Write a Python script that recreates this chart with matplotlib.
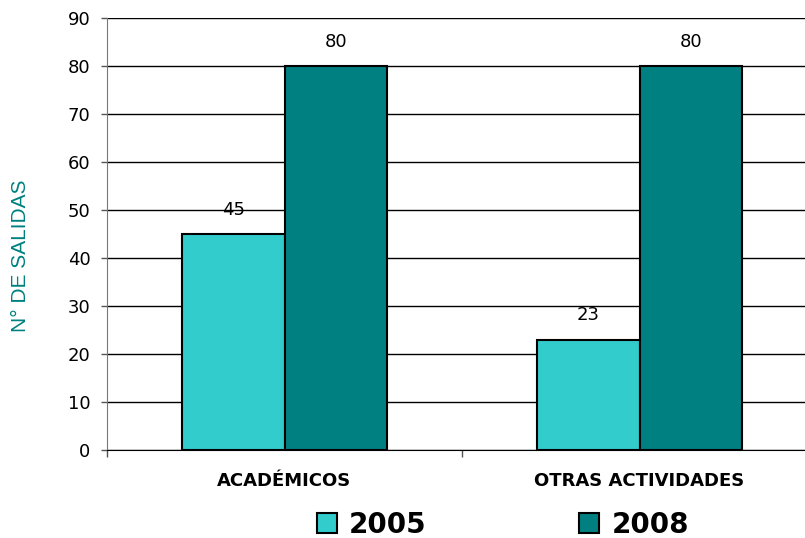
import matplotlib
matplotlib.use("Agg")
import matplotlib.pyplot as plt
import numpy as np

categories = ["ACADÉMICOS", "OTRAS ACTIVIDADES"]
series_names = ["2005", "2008"]
values_2005 = [45, 23]
values_2008 = [80, 80]
yticks = [0, 10, 20, 30, 40, 50, 60, 70, 80, 90]

plt.rcParams['font.family'] = ['DejaVu Sans']

fig = plt.figure(figsize=(8.05, 5.38), dpi=100)
ax = fig.add_axes([107/805, 1-450/538, 710/805, 432/538])

x = np.arange(len(categories))
w = 0.289
b1 = ax.bar(x - w/2, values_2005, w, color="#33CCCC", edgecolor="black", linewidth=1.5, label=series_names[0], zorder=3)
b2 = ax.bar(x + w/2, values_2008, w, color="#008080", edgecolor="black", linewidth=1.5, label=series_names[1], zorder=3)

for bars, vals in ((b1, values_2005), (b2, values_2008)):
    for r, v in zip(bars, vals):
        ax.annotate(str(v), (r.get_x() + r.get_width()/2, v), xytext=(0, 11), textcoords="offset points",
                    ha="center", va="bottom", fontsize=13)

ax.set_xlim(-0.5, 1.5)
ax.set_ylim(0, 90)
ax.set_yticks(yticks)
ax.yaxis.grid(True, color="black", linewidth=1)
ax.set_axisbelow(True)
ax.tick_params(axis="y", labelsize=13, length=4.3, width=1, color="#555555", pad=7.5)
ax.set_xticks(x)
ax.set_xticklabels(categories, fontsize=13, fontweight="bold")
ax.tick_params(axis="x", which="major", length=0, pad=16)
ax.set_xticks([-0.5, 0.5, 1.5], minor=True)
ax.tick_params(axis="x", which="minor", length=5, width=1, color="#555555")
for s in ("top", "right"):
    ax.spines[s].set_visible(False)
ax.spines["left"].set_color("#777777")
ax.spines["bottom"].set_color("black")

ax.set_ylabel("N° DE SALIDAS", color="#008080", fontsize=15, family=["Liberation Sans", "DejaVu Sans"])
ax.yaxis.set_label_coords((30-107)/710, (450-256)/432)

leg = fig.legend(handles=[b1, b2], labels=series_names, loc="center", bbox_to_anchor=(503/805, 1-525/538),
                 ncol=2, frameon=False, prop={"size": 20, "weight": "bold"},
                 handlelength=0.72, handleheight=0.72, handletextpad=0.43, columnspacing=5.5)

fig.savefig("out.png", dpi=100)
